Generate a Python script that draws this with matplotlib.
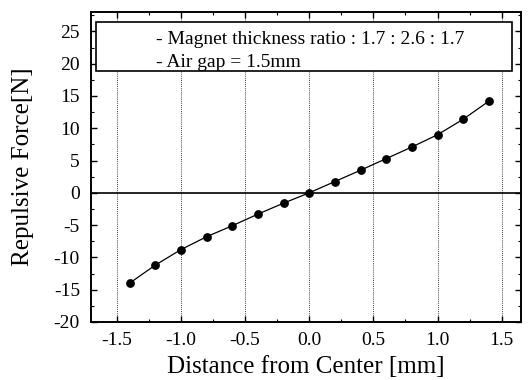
import matplotlib
matplotlib.use("Agg")
import matplotlib.pyplot as plt
from matplotlib.patches import Rectangle
from matplotlib.ticker import MultipleLocator

plt.rcParams['font.family'] = ['Liberation Serif', 'DejaVu Serif']

# data
distance = [-1.4, -1.2, -1.0, -0.8, -0.6, -0.4, -0.2, 0.0, 0.2, 0.4, 0.6, 0.8, 1.0, 1.2, 1.4]
force = [-14.0, -11.2, -8.8, -6.8, -5.1, -3.3, -1.6, 0.0, 1.75, 3.5, 5.3, 7.1, 9.0, 11.4, 14.2]
note_lines = ["- Magnet thickness ratio : 1.7 : 2.6 : 1.7", "- Air gap = 1.5mm"]

fig = plt.figure(figsize=(5.28, 3.80), dpi=100)
ax = fig.add_axes([91 / 528, 1 - 322 / 380, 430 / 528, 310 / 380])

ax.set_xlim(-1.7, 1.65)
ax.set_ylim(-20, 28)

# dotted vertical grid at major x ticks
for xv in [-1.5, -1.0, -0.5, 0.0, 0.5, 1.0, 1.5]:
    ax.axvline(xv, color='black', linestyle=(0, (1, 1.5)), linewidth=0.6, zorder=1)
ax.axhline(0, color='black', linewidth=1.2, zorder=2)

ax.plot(distance, force, color='black', linewidth=0.9, marker='o', markersize=5.3, zorder=3)

ax.xaxis.set_minor_locator(MultipleLocator(0.25))
ax.yaxis.set_minor_locator(MultipleLocator(2.5))
ax.set_xticks([-1.5, -1.0, -0.5, 0.0, 0.5, 1.0, 1.5])
ax.set_xticklabels(['-1.5', '-1.0', '-0.5', '0.0', '0.5', '1.0', '1.5'])
ax.set_yticks(range(-20, 26, 5))
ax.set_yticklabels([str(v) for v in range(-20, 26, 5)])
ax.tick_params(which='both', direction='in', top=True, right=True, labelsize=14)
ax.tick_params(which='major', length=4, width=1)
ax.tick_params(which='minor', length=2.5, width=0.8)
ax.tick_params(axis='y', which='major', pad=8)
ax.tick_params(axis='x', which='major', pad=7)
for sp in ax.spines.values():
    sp.set_linewidth(1.4)

ax.set_xlabel("Distance from Center [mm]", fontsize=18, labelpad=5)
ax.set_ylabel("Repulsive Force[N]", fontsize=18, labelpad=14)

# annotation box
ax.add_patch(Rectangle((0.012, 0.81), 0.967, 0.158, transform=ax.transAxes,
                       facecolor='white', edgecolor='black', linewidth=1.2, zorder=4))
ax.text(0.152, 0.91, note_lines[0], transform=ax.transAxes, fontsize=14,
        va='center', ha='left', zorder=5)
ax.text(0.152, 0.838, note_lines[1], transform=ax.transAxes, fontsize=14,
        va='center', ha='left', zorder=5)

fig.savefig("out.png", dpi=100)
